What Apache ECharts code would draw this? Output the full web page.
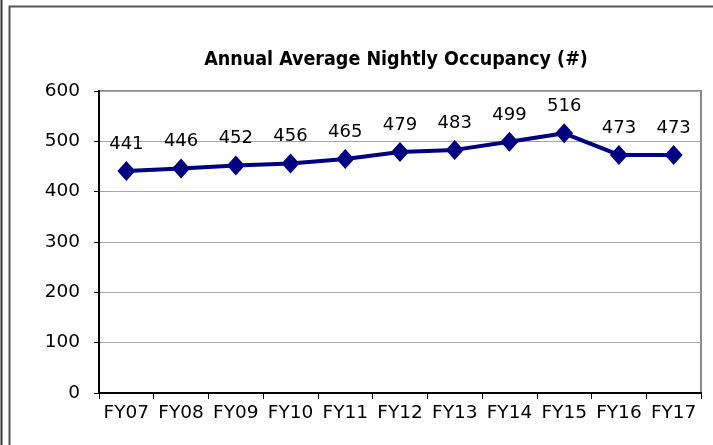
<!DOCTYPE html>
<html>
<head>
<meta charset="utf-8">
<script src="https://cdn.jsdelivr.net/npm/echarts@6/dist/echarts.min.js"></script>
<style>
html, body { margin: 0; padding: 0; background: #fff; }
#chart { width: 713px; height: 445px; }
</style>
</head>
<body>
<div id="chart"></div>
<script>
// 数据
var years = ['FY07', 'FY08', 'FY09', 'FY10', 'FY11', 'FY12', 'FY13', 'FY14', 'FY15', 'FY16', 'FY17'];
var occupancy = [441, 446, 452, 456, 465, 479, 483, 499, 516, 473, 473];

var chart = echarts.init(document.getElementById('chart'));

var option = {
    animation: false,
    backgroundColor: '#fff',
    title: {
        text: 'Annual Average Nightly Occupancy (#)',
        left: 391,
        textAlign: 'center',
        top: 45,
        textStyle: {
            fontFamily: '"DejaVu Sans Condensed", "Liberation Sans"',
            fontSize: 19.5,
            fontWeight: 'bold',
            color: '#000'
        }
    },
    graphic: [
        // 外框
        { type: 'line', shape: { x1: 1.5, y1: 0, x2: 1.5, y2: 445 }, style: { stroke: '#333', lineWidth: 2 } },
        { type: 'polyline', shape: { points: [[9.5, 445], [9.5, 6.5], [713, 6.5]] }, style: { stroke: '#555', lineWidth: 2, fill: null } }
    ],
    grid: {
        left: 99,
        right: 12,
        top: 91,
        bottom: 52,
        show: true,
        borderColor: '#8a8a8a',
        borderWidth: 2
    },
    xAxis: {
        type: 'category',
        data: years,
        boundaryGap: true,
        axisLine: { lineStyle: { color: '#000', width: 2 } },
        axisTick: { show: true, length: 6, interval: 0, lineStyle: { color: '#000' } },
        axisLabel: {
            interval: 0,
            hideOverlap: false,
            margin: 11,
            fontFamily: 'DejaVu Sans',
            fontSize: 18.5,
            color: '#000'
        }
    },
    yAxis: {
        type: 'value',
        min: 0,
        max: 600,
        interval: 100,
        axisLine: { show: true, lineStyle: { color: '#000', width: 2 } },
        axisTick: { show: true, length: 5, lineStyle: { color: '#000' } },
        axisLabel: {
            margin: 19,
            fontFamily: 'DejaVu Sans',
            fontSize: 18.5,
            color: '#000'
        },
        splitLine: { lineStyle: { color: '#a6a6a6', width: 1 } }
    },
    series: [{
        type: 'line',
        data: occupancy,
        symbol: 'diamond',
        symbolSize: [18, 20],
        itemStyle: { color: '#000080' },
        lineStyle: { color: '#000080', width: 4 },
        label: {
            show: true,
            position: 'top',
            distance: 8,
            fontFamily: 'DejaVu Sans',
            fontSize: 18,
            color: '#000'
        }
    }]
};
chart.setOption(option);
</script>
</body>
</html>
